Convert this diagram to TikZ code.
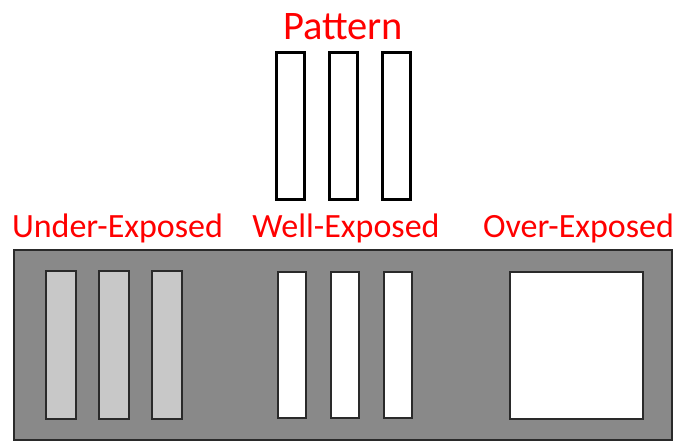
\documentclass[tikz,border=0pt]{standalone}
\usepackage{fontspec}
\setmainfont{Carlito}
\definecolor{panelgray}{HTML}{898989}
\definecolor{underfill}{HTML}{C8C8C8}
\definecolor{edgedark}{HTML}{2A2A2A}
\begin{document}
\begin{tikzpicture}[x=1pt,y=-1pt,
  lbl/.style={text=red,font=\fontsize{34}{37}\selectfont,anchor=base,inner sep=0pt},
  title/.style={text=red,font=\fontsize{40.5}{44}\selectfont,anchor=base,inner sep=0pt},
  patbar/.style={draw=black,line width=3pt,fill=white},
  panel/.style={draw=edgedark,line width=2pt,fill=panelgray},
  underbar/.style={draw=edgedark,line width=2pt,fill=underfill},
  wellbar/.style={draw=edgedark,line width=2pt,fill=white}]
\useasboundingbox (0,0) rectangle (676,442);
% title and pattern
\node[title] (pattern) at (343,39) {Pattern};
\draw[patbar] (276.5,52) rectangle (304.5,199.5);
\draw[patbar] (329.5,52) rectangle (357.5,199.5);
\draw[patbar] (382,52) rectangle (410.5,199.5);
% labels
\node[lbl] (under) at (117.5,237) {Under-Exposed};
\node[lbl] (well) at (346,237) {Well-Exposed};
\node[lbl] (over) at (578.5,237) {Over-Exposed};
% panel
\draw[panel] (14,250) rectangle (671.5,440);
% under-exposed bars
\draw[underbar] (46,271) rectangle (76,419);
\draw[underbar] (98.5,271) rectangle (129,419);
\draw[underbar] (152,271) rectangle (182,419);
% well-exposed bars
\draw[wellbar] (278,272) rectangle (306,418);
\draw[wellbar] (331,272) rectangle (359,418);
\draw[wellbar] (384,272) rectangle (412,418);
% over-exposed square
\draw[wellbar] (509.5,272) rectangle (642.5,418.5);
\end{tikzpicture}
\end{document}
